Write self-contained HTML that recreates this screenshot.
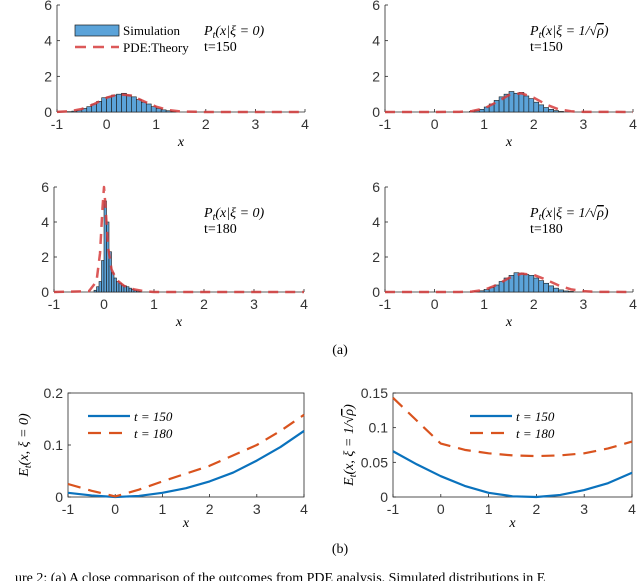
<!DOCTYPE html>
<html><head><meta charset="utf-8">
<style>
body{margin:0;background:#fff;width:640px;height:581px;overflow:hidden}
svg{display:block}
text{font-family:"Liberation Sans",sans-serif;fill:#333}
.m{font-family:"Liberation Serif",serif;font-style:italic;fill:#000}
.r{font-family:"Liberation Serif",serif;fill:#000}
</style></head><body>
<svg id="s" width="640" height="581"></svg>
<script>
// ---- data ----
const histTL_x=[-0.75,-0.65,-0.55,-0.45,-0.35,-0.25,-0.15,-0.05,0.05,0.15,0.25,0.35,0.45,0.55,0.65,0.75,0.85,0.95,1.05,1.15,1.25,1.35];
const histTL_y=[0.02,0.05,0.1,0.2,0.3,0.45,0.6,0.8,0.85,0.95,1.0,1.05,0.95,0.85,0.7,0.55,0.45,0.3,0.2,0.12,0.07,0.03];
const theoTL_x=[-1,-0.75,-0.5,-0.25,0,0.25,0.5,0.75,1,1.25,1.5,2,3,4];
const theoTL_y=[0.01,0.04,0.17,0.45,0.8,1.0,0.92,0.6,0.3,0.11,0.03,0,0,0];
const histTR_x=[0.75,0.85,0.95,1.05,1.15,1.25,1.35,1.45,1.55,1.65,1.75,1.85,1.95,2.05,2.15,2.25,2.35,2.45,2.55];
const histTR_y=[0.03,0.08,0.15,0.28,0.45,0.65,0.85,1.0,1.15,1.05,1.1,0.9,0.75,0.55,0.4,0.25,0.15,0.08,0.03];
const theoTR_x=[-1,0,0.5,0.75,1,1.25,1.5,1.75,2,2.25,2.5,2.75,3,4];
const theoTR_y=[0,0,0.01,0.05,0.2,0.55,0.95,1.05,0.8,0.42,0.15,0.04,0.01,0];
const histBL_x=[-0.175,-0.125,-0.075,-0.025,0.025,0.075,0.125,0.175,0.225,0.275,0.325,0.375,0.425,0.475,0.525,0.575,0.625,0.675,0.725];
const histBL_y=[0.1,0.3,0.6,1.8,5.2,4.0,2.3,1.1,0.8,0.6,0.5,0.4,0.35,0.3,0.22,0.16,0.1,0.06,0.03];
const theoBL_x=[-1,-0.3,-0.15,-0.08,-0.03,0,0.03,0.08,0.15,0.25,0.4,0.6,0.8,1,4];
const theoBL_y=[0,0.05,0.6,2.2,4.8,6.0,4.9,2.6,1.3,0.7,0.35,0.15,0.05,0,0];
const histBR_x=[0.85,0.95,1.05,1.15,1.25,1.35,1.45,1.55,1.65,1.75,1.85,1.95,2.05,2.15,2.25,2.35,2.45,2.55,2.65,2.75];
const histBR_y=[0.03,0.07,0.14,0.25,0.4,0.6,0.8,0.95,1.1,1.08,1.0,0.95,0.8,0.65,0.5,0.35,0.22,0.12,0.06,0.03];
const theoBR_x=[-1,0.5,0.75,1,1.25,1.5,1.75,2,2.25,2.5,2.75,3,3.25,4];
const theoBR_y=[0,0,0.02,0.12,0.4,0.8,1.05,0.98,0.7,0.38,0.15,0.05,0.01,0];
const eX=[-1,-0.5,0,0.5,1,1.5,2,2.5,3,3.5,4];
const eL150=[0.008,0.003,0,0.002,0.008,0.017,0.03,0.047,0.07,0.096,0.127];
const eL180=[0.025,0.012,0.001,0.014,0.03,0.045,0.06,0.08,0.1,0.127,0.158];
const eR150=[0.066,0.047,0.03,0.016,0.006,0.001,0,0.003,0.01,0.02,0.035];
const eR180=[0.143,0.11,0.077,0.068,0.063,0.06,0.059,0.06,0.063,0.07,0.08];
const xTicks=[-1,0,1,2,3,4];
const pTicks=[0,2,4,6];
const eTicksL=[0,0.1,0.2];
const eTicksR=[0,0.05,0.1,0.15];

const S=document.getElementById('s');const NS='http://www.w3.org/2000/svg';
function mk(t,a,p){const e=document.createElementNS(NS,t);for(const k in a)e.setAttribute(k,a[k]);(p||S).appendChild(e);return e;}
function txt(x,y,s,cls,anchor,size,name){const e=mk('text',{x:x,y:y,'text-anchor':anchor||'middle','font-size':size||13});if(cls)e.setAttribute('class',cls);e.innerHTML=s;

return e;}

function axes(x0,x1,y0,y1,ymin,ymax,yt,box,name,ytFmt){
 const g=mk('g',{});
 
 
 const sx=v=>x0+(v+1)/5*(x1-x0), sy=v=>y0-(v-ymin)/(ymax-ymin)*(y0-y1);
 if(box){mk('rect',{x:x0,y:y1,width:x1-x0,height:y0-y1,fill:'none',stroke:'#262626','stroke-width':0.8},g);}
 else{mk('line',{x1:x0,y1:y0,x2:x1,y2:y0,stroke:'#262626','stroke-width':0.8},g);mk('line',{x1:x0,y1:y0,x2:x0,y2:y1,stroke:'#262626','stroke-width':0.8},g);}
 xTicks.forEach(t=>{mk('line',{x1:sx(t),y1:y0,x2:sx(t),y2:y0-3,stroke:'#262626','stroke-width':0.8},g);const e=txt(sx(t),y0+17,String(t),null,'middle',14,'x-tick-label');g.appendChild(e);});
 yt.forEach(t=>{mk('line',{x1:x0,y1:sy(t),x2:x0+3,y2:sy(t),stroke:'#262626','stroke-width':0.8},g);const e=txt(x0-5,sy(t)+5,ytFmt?ytFmt(t):String(t),null,'end',14,'y-tick-label');g.appendChild(e);});
 return {g,sx,sy};
}
function hist(A,hx,hy,w,name){
 hx.forEach((c,i)=>{const x=A.sx(c-w/2),x2=A.sx(c+w/2),y=A.sy(hy[i]);
  const r=mk('rect',{x:x,y:y,width:x2-x,height:A.sy(0)-y,fill:'#5ba3d9',stroke:'#1a1a1a','stroke-width':0.6},A.g);
  
  });
}
function line(A,xs,ys,color,dash,name,w){
 const p=mk('polyline',{points:xs.map((x,i)=>A.sx(x)+','+A.sy(ys[i])).join(' '),fill:'none',stroke:color,'stroke-width':w||2,'stroke-dasharray':dash||'none','stroke-linejoin':'round'},A.g);
 
 
}
const red='rgba(214,60,60,0.85)';
function panel(x0,x1,y0,y1,hx,hy,w,tx,ty,name,lab,t,lx){
 const A=axes(x0,x1,y0,y1,0,6,pTicks,false,name);
 hist(A,hx,hy,w,'histogram-bar');
 line(A,tx,ty,red,'10,7','theory-curve',2.5);
 txt((x0+x1)/2,y0+34,'x','m','middle',14,'x-axis-title');
 txt(lx,y1+30,lab,'m','start',14,'panel-formula');
 txt(lx,y1+46,t,'r','start',14,'panel-time');
}
const lab0='P<tspan font-size="10" dy="3">t</tspan><tspan dy="-3">(x|ξ = 0)</tspan>';
const lab1='P<tspan font-size="10" dy="3">t</tspan><tspan dy="-3">(x|ξ = 1/√<tspan text-decoration="overline">ρ</tspan>)</tspan>';
panel(57,305,112,5,histTL_x,histTL_y,0.1,theoTL_x,theoTL_y,'panel-top-left',lab0,'t=150',204);
panel(385,633,112,5,histTR_x,histTR_y,0.1,theoTR_x,theoTR_y,'panel-top-right',lab1,'t=150',530);
panel(54,304,292,187,histBL_x,histBL_y,0.05,theoBL_x,theoBL_y,'panel-bottom-left',lab0,'t=180',204);
panel(385,633,292,187,histBR_x,histBR_y,0.1,theoBR_x,theoBR_y,'panel-bottom-right',lab1,'t=180',530);
// legend top-left
const lg=mk('g',{});
mk('rect',{x:75,y:25,width:44,height:11,fill:'#5ba3d9',stroke:'#1a1a1a','stroke-width':0.7},lg);
lg.appendChild(txt(123,35,'Simulation','r','start',13,'legend-simulation'));
mk('line',{x1:75,y1:47,x2:119,y2:47,stroke:red,'stroke-width':2.5,'stroke-dasharray':'11,7'},lg);
lg.appendChild(txt(123,52,'PDE:Theory','r','start',13,'legend-theory'));
txt(340,354,'(a)','r','middle',14,'subfigure-a-label');
// E panels
function epanel(x0,x1,ymax,yt,b150,b180,name,ylab,lx,fmt){
 const A=axes(x0,x1,497,393,0,ymax,yt,true,name,fmt);
 line(A,eX,b150,'#0a72bd',null,'series-t150',2.2);
 line(A,eX,b180,'#d9531e','13,8','series-t180',2.2);
 txt((x0+x1)/2,527,'x','m','middle',14,'x-axis-title');
 const yl=txt(0,0,ylab,'m','middle',14,'y-axis-title');yl.setAttribute('transform','translate('+(x0-40)+',445) rotate(-90)');
 mk('line',{x1:lx,y1:416,x2:lx+42,y2:416,stroke:'#0a72bd','stroke-width':2.2});
 txt(lx+46,421,'t = 150','m','start',13,'legend-t150');
 mk('line',{x1:lx,y1:433,x2:lx+42,y2:433,stroke:'#d9531e','stroke-width':2.2,'stroke-dasharray':'13,8'});
 txt(lx+46,438,'t = 180','m','start',13,'legend-t180');
}
epanel(68,304,0.2,eTicksL,eL150,eL180,'panel-e-left','E<tspan font-size="10" dy="3">t</tspan><tspan dy="-3">(x, ξ = 0)</tspan>',88,t=>String(t));
epanel(393,632,0.15,eTicksR,eR150,eR180,'panel-e-right','E<tspan font-size="10" dy="3">t</tspan><tspan dy="-3">(x, ξ = 1/√<tspan text-decoration="overline">ρ</tspan>)</tspan>',470,t=>String(t));
txt(340,553,'(b)','r','middle',14,'subfigure-b-label');
txt(15,582,'ure 2: (a) A close comparison of the outcomes from PDE analysis. Simulated distributions in E','r','start',14,'caption');
</script>
</body></html>
